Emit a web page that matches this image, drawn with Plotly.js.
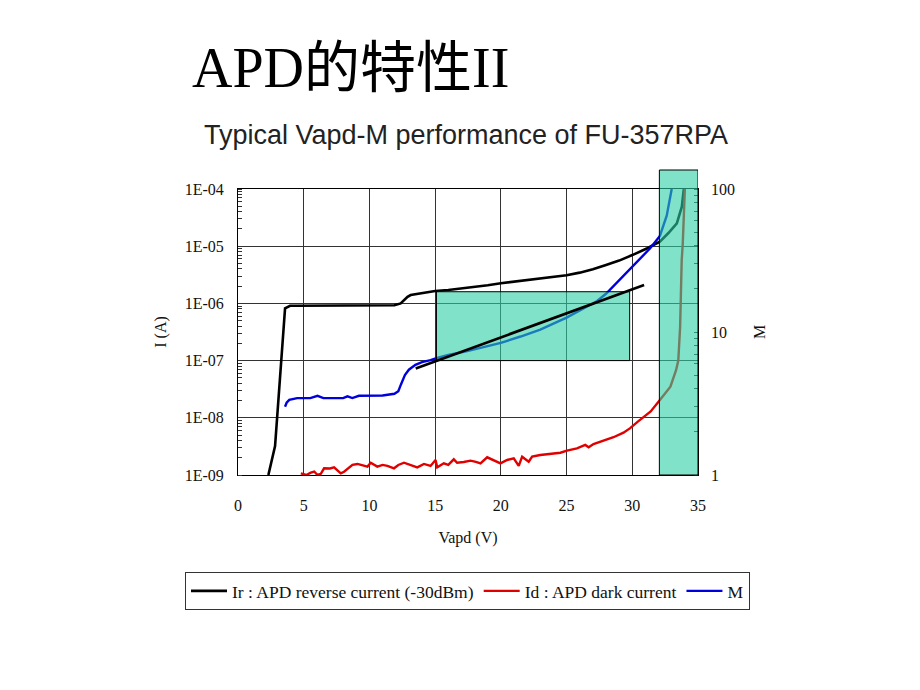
<!DOCTYPE html>
<html>
<head>
<meta charset="utf-8">
<script src="https://cdn.plot.ly/plotly-3.0.1.min.js"></script>
<style>html,body{margin:0;padding:0;background:#fff;}#chart{width:920px;height:690px;}</style>
</head>
<body>
<div id="chart"></div>
<script>
// ---------- data ----------
const irV = [2.31, 2.82, 3.58, 3.96, 4.5, 5, 6, 7, 8, 9, 10, 11, 11.9, 12.38, 12.9, 13.14, 14.15, 15, 16, 17, 18, 19, 20, 21, 22, 23, 24, 25, 26, 27, 28, 29, 30, 30.5, 31.1, 31.6, 32.1, 32.75, 33.39, 33.77, 33.92];
const irA = [1e-9, 3.2e-9, 8.2e-7, 9.1e-7, 9.1e-7, 9.1e-7, 9.1e-7, 9.1e-7, 9.1e-7, 9.1e-7, 9.1e-7, 9.2e-7, 9.3e-7, 1.0e-6, 1.3e-6, 1.4e-6, 1.55e-6, 1.65e-6, 1.72e-6, 1.82e-6, 1.93e-6, 2.08e-6, 2.25e-6, 2.4e-6, 2.55e-6, 2.72e-6, 2.9e-6, 3.1e-6, 3.45e-6, 3.95e-6, 4.7e-6, 5.6e-6, 7.0e-6, 7.8e-6, 9.1e-6, 1.05e-5, 1.2e-5, 1.7e-5, 2.5e-5, 4.9e-5, 1e-4];

const idV = [4.78, 5.2, 5.54, 5.8, 6.05, 6.3, 6.55, 7.0, 7.31, 7.6, 7.82, 8.07, 8.4, 8.71, 9.09, 9.5, 9.85, 10.1, 10.6, 11.0, 11.37, 11.87, 12.2, 12.63, 13.14, 13.64, 14.15, 14.65, 15.03, 15.16, 15.66, 16.0, 16.42, 16.67, 17.18, 17.69, 18.1, 18.45, 18.96, 19.46, 19.97, 20.48, 20.98, 21.36, 21.62, 22.12, 22.38, 23.0, 23.77, 24.53, 25.03, 25.79, 26.42, 26.68, 27.05, 27.81, 28.57, 29.33, 29.84, 30.4, 31.0, 31.4, 32.1, 32.9, 33.33, 33.5, 33.64, 33.69, 33.76, 33.84, 33.94, 34.0];
const idA = [1.07e-9, 1.0e-9, 1.1e-9, 1.15e-9, 1.0e-9, 1.05e-9, 1.31e-9, 1.3e-9, 1.36e-9, 1.2e-9, 1.07e-9, 1.14e-9, 1.3e-9, 1.5e-9, 1.56e-9, 1.45e-9, 1.4e-9, 1.64e-9, 1.4e-9, 1.5e-9, 1.44e-9, 1.31e-9, 1.5e-9, 1.64e-9, 1.5e-9, 1.36e-9, 1.56e-9, 1.44e-9, 1.83e-9, 1.36e-9, 1.6e-9, 1.5e-9, 1.88e-9, 1.64e-9, 1.69e-9, 1.78e-9, 1.7e-9, 1.6e-9, 2.04e-9, 1.83e-9, 1.6e-9, 1.83e-9, 1.96e-9, 1.44e-9, 2.09e-9, 1.71e-9, 2.09e-9, 2.24e-9, 2.33e-9, 2.45e-9, 2.66e-9, 2.93e-9, 3.35e-9, 3.05e-9, 3.48e-9, 3.98e-9, 4.57e-9, 5.5e-9, 6.6e-9, 8.5e-9, 1.08e-8, 1.29e-8, 2.04e-8, 3.5e-8, 6.8e-8, 1.0e-7, 3.9e-7, 1.5e-6, 5.7e-6, 1.1e-5, 4.3e-5, 1e-4];

const mV = [3.58, 3.7, 3.9, 4.5, 5.5, 6.05, 6.5, 7.5, 8.0, 8.33, 8.7, 9.2, 10, 11, 11.9, 12.2, 12.4, 12.7, 13.0, 13.5, 14.0, 14.65, 15.16, 16, 17.44, 20, 21.5, 23, 25, 26, 27.3, 28, 28.8, 29.5, 30.1, 30.7, 31.36, 32.1, 32.62, 33.0];
const mGain = [3.0, 3.2, 3.35, 3.45, 3.45, 3.58, 3.45, 3.45, 3.45, 3.55, 3.45, 3.58, 3.58, 3.6, 3.7, 3.85, 4.3, 5.0, 5.45, 5.9, 6.15, 6.35, 6.6, 6.9, 7.35, 8.4, 9.3, 10.4, 12.6, 14.2, 16.4, 18.5, 22, 25.5, 29, 33, 38.5, 47, 65, 100];

// straight guide line (Vapd, I)
const fitLineV = [13.52, 30.9];
const fitLineI = [7.3e-8, 2.09e-6];
// highlighted regions
const linearRegionV = [15.1, 29.8];
const linearRegionI = [1e-7, 1.6e-6];
const breakdownRegionV = [32.06, 35];

const leftTickVals = [1e-9, 1e-8, 1e-7, 1e-6, 1e-5, 1e-4];
const leftTickText = ["1E-09", "1E-08", "1E-07", "1E-06", "1E-05", "1E-04"];
const rightTickVals = [1, 10, 100];
const rightTickText = ["1", "10", "100"];
const xTickVals = [0, 5, 10, 15, 20, 25, 30, 35];

const seriesNames = ["Ir : APD reverse current (-30dBm)", "Id : APD dark current", "M"];

// ---------- chart ----------
const serif = "Liberation Serif, Times New Roman, serif";
const sans = "Liberation Sans, Arial, sans-serif";
const tealFill = "rgba(43,207,163,0.6)";

const traces = [
  {x: irV, y: irA, name: seriesNames[0], type: "scatter", mode: "lines", line: {color: "#000000", width: 2.6}, yaxis: "y"},
  {x: idV, y: idA, name: seriesNames[1], type: "scatter", mode: "lines", line: {color: "#e00000", width: 2.4}, yaxis: "y"},
  {x: mV, y: mGain, name: seriesNames[2], type: "scatter", mode: "lines", line: {color: "#0000dd", width: 2.4}, yaxis: "y2"}
];

const layout = {
  width: 920, height: 690,
  margin: {l: 238, r: 222, t: 189, b: 215, autoexpand: false},
  paper_bgcolor: "#ffffff", plot_bgcolor: "#ffffff",
  showlegend: true,
  title: {
    text: "Typical Vapd-M performance of FU-357RPA",
    font: {family: sans, size: 27, color: "#222222"},
    x: 466 / 920, xanchor: "center", xref: "container",
    y: 1 - 135 / 690, yanchor: "middle", yref: "container"
  },
  xaxis: {
    range: [0, 35], tickmode: "array", tickvals: xTickVals,
    showgrid: true, gridcolor: "#333333", gridwidth: 1,
    showline: true, linecolor: "#000000", linewidth: 1, mirror: true,
    zeroline: false, ticks: "", ticklabelstandoff: 16,
    tickfont: {family: serif, size: 16, color: "#111111"},
    title: {text: "Vapd (V)", font: {family: serif, size: 16, color: "#111111"}, standoff: 18}
  },
  yaxis: {
    type: "log", range: [-9, -4], tickmode: "array", tickvals: leftTickVals, ticktext: leftTickText,
    showgrid: true, gridcolor: "#333333", gridwidth: 1,
    showline: true, linecolor: "#000000", linewidth: 1, mirror: true,
    zeroline: false, ticks: "", ticklabelstandoff: 10,
    minor: {ticks: "inside", ticklen: 4, tickcolor: "#333333", tickwidth: 1, dtick: "D1", showgrid: false},
    tickfont: {family: serif, size: 16, color: "#111111"},
    title: {text: "I (A)", font: {family: serif, size: 16, color: "#111111"}, standoff: 14}
  },
  yaxis2: {
    type: "log", range: [0, 2], overlaying: "y", side: "right",
    tickmode: "array", tickvals: rightTickVals, ticktext: rightTickText,
    showgrid: false, showline: false, zeroline: false, ticks: "", ticklabelstandoff: 12,
    minor: {ticks: "inside", ticklen: 4, tickcolor: "#333333", tickwidth: 1, dtick: "D1", showgrid: false},
    tickfont: {family: serif, size: 16, color: "#111111"},
    title: {text: "M", font: {family: serif, size: 16, color: "#111111"}, standoff: 19}
  },
  legend: {
    orientation: "h", x: (185 - 238) / 460, xanchor: "left", y: (475 - 572) / 286, yanchor: "top",
    bordercolor: "#333333", borderwidth: 1, bgcolor: "#ffffff", itemwidth: 36,
    font: {family: serif, size: 17.5, color: "#111111"}
  },
  shapes: [
    {type: "rect", layer: "above", xref: "x", yref: "y",
     x0: linearRegionV[0], x1: linearRegionV[1], y0: linearRegionI[0], y1: linearRegionI[1],
     fillcolor: tealFill, line: {color: "#000000", width: 1}},
    {type: "rect", layer: "above", xref: "x", yref: "paper",
     x0: breakdownRegionV[0], x1: breakdownRegionV[1], y0: 0, y1: (475 - 170) / 286,
     fillcolor: tealFill, line: {color: "#000000", width: 1}},
    {type: "line", layer: "above", xref: "x", yref: "y",
     x0: fitLineV[0], x1: fitLineV[1], y0: fitLineI[0], y1: fitLineI[1],
     line: {color: "#000000", width: 2.6}}
  ],
  annotations: [
    {text: "APD的特性II", xref: "paper", yref: "paper", x: (190 - 238) / 460, xanchor: "left",
     y: (475 - 68) / 286, yanchor: "middle", showarrow: false,
     font: {family: "Liberation Serif, 'Noto Sans CJK SC', serif", size: 56, color: "#000000"}}
  ]
};

Plotly.newPlot("chart", traces, layout, {staticPlot: true, displayModeBar: false});
</script>
</body>
</html>
